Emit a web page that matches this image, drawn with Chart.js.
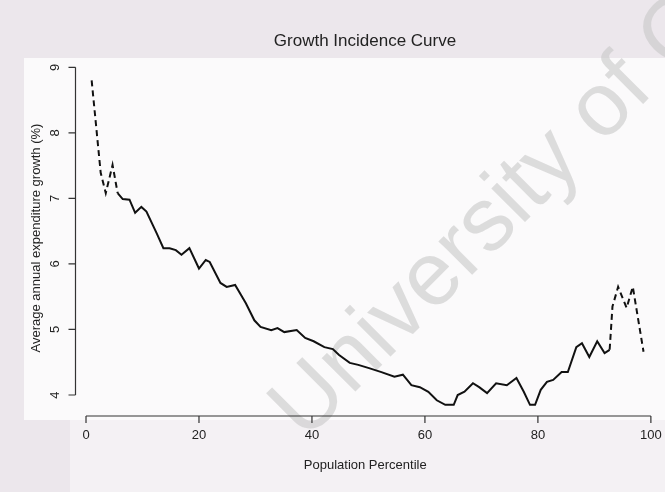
<!DOCTYPE html>
<html>
<head>
<meta charset="utf-8">
<script src="https://cdn.jsdelivr.net/npm/chart.js@4.4.1/dist/chart.umd.min.js"></script>
<style>
  html, body { margin: 0; padding: 0; background: #ece7ec; }
  #wrap { position: relative; width: 665px; height: 492px; }
</style>
</head>
<body>
<div id="wrap"><canvas id="gic" width="665" height="492"></canvas></div>
<script>
// Valores (percentil, crescimento %)
const percentiles = [1, 2.6, 3.5, 4.7, 5.6, 6.5, 7.7, 8.7, 9.8, 10.7, 12.5, 13.7, 14.8, 15.9, 16.9, 18.3, 20, 21.2, 21.9,
  23.8, 24.9, 26.4, 28.3, 29.8, 30.9, 32.8, 33.9, 35.1, 37.3, 38.8, 40.3, 42.2, 43.7, 44.8, 46.7, 48.2, 50.1, 52.3,
  54.6, 56.1, 57.6, 59.1, 60.6, 62.1, 63.6, 65.1, 65.8, 67, 68.5, 69.6, 71, 72.6, 74.5, 76.2, 77.5, 78.6, 79.5,
  80.5, 81.6, 82.7, 84.2, 85.3, 86.8, 87.8, 89.1, 90.5, 91.8, 92.7, 93.2, 94.2, 95.7, 96.8, 98.7];
const growth = [8.8, 7.39, 7.08, 7.51, 7.08, 6.99, 6.98, 6.78, 6.87, 6.8, 6.47, 6.24, 6.24, 6.21, 6.14, 6.24, 5.93, 6.06, 6.03,
  5.71, 5.65, 5.68, 5.4, 5.14, 5.04, 4.99, 5.02, 4.96, 4.99, 4.87, 4.82, 4.73, 4.7, 4.61, 4.49, 4.46, 4.41, 4.35,
  4.28, 4.31, 4.15, 4.12, 4.05, 3.92, 3.85, 3.85, 4.0, 4.05, 4.18, 4.12, 4.03, 4.18, 4.15, 4.26, 4.05, 3.85, 3.85,
  4.08, 4.2, 4.23, 4.35, 4.35, 4.73, 4.79, 4.58, 4.82, 4.64, 4.69, 5.35, 5.65, 5.33, 5.65, 4.66];
const xTicks = [0, 20, 40, 60, 80, 100];
const yTicks = [4, 5, 6, 7, 8, 9];

const tituloGrafico = 'Growth Incidence Curve';
const tituloX = 'Population Percentile';
const tituloY = 'Average annual expenditure growth (%)';
const marcaDagua = 'University of Cape Town';

// caudas tracejadas (abaixo de ~5 e acima de ~93)
const caudaBaixa = 5.6;
const caudaAlta = 92.7;

const pontos = percentiles.map((p, i) => ({ x: p, y: growth[i] }));

// Plugin para desenhar fundo, eixos estilo R e textos
const eixosR = {
  id: 'eixosR',
  beforeDraw(chart) {
    const ctx = chart.ctx;
    ctx.save();
    // fundo da pagina escaneada
    ctx.fillStyle = '#ece7ec';
    ctx.fillRect(0, 0, chart.width, chart.height);
    ctx.fillStyle = '#fbfafb';
    ctx.fillRect(24, 58, 641, 362);
    ctx.fillStyle = '#f4f1f4';
    ctx.fillRect(70, 420, 595, 72);
    // marca d'agua
    ctx.translate(305, 442);
    ctx.rotate(-45 * Math.PI / 180);
    ctx.font = '90px "Liberation Sans", Arial, sans-serif';
    ctx.fillStyle = 'rgba(200, 200, 200, 0.6)';
    ctx.fillText(marcaDagua, 0, 0);
    ctx.restore();
  },
  afterDraw(chart) {
    const ctx = chart.ctx;
    const x = chart.scales.x;
    const y = chart.scales.y;
    const area = chart.chartArea;
    ctx.save();
    ctx.strokeStyle = '#333';
    ctx.fillStyle = '#222';
    ctx.lineWidth = 1.2;

    // eixo x
    const yEixo = area.bottom;
    ctx.beginPath();
    ctx.moveTo(x.getPixelForValue(xTicks[0]), yEixo);
    ctx.lineTo(x.getPixelForValue(xTicks[xTicks.length - 1]), yEixo);
    xTicks.forEach(t => {
      const px = x.getPixelForValue(t);
      ctx.moveTo(px, yEixo);
      ctx.lineTo(px, yEixo + 7);
    });
    ctx.stroke();
    ctx.font = '13px "Liberation Sans", Arial, sans-serif';
    ctx.textAlign = 'center';
    ctx.textBaseline = 'middle';
    xTicks.forEach(t => ctx.fillText(String(t), x.getPixelForValue(t), 435));
    ctx.fillText(tituloX, (area.left + area.right) / 2 - 5, 465);

    // eixo y
    const xEixo = area.left;
    ctx.beginPath();
    ctx.moveTo(xEixo, y.getPixelForValue(yTicks[0]));
    ctx.lineTo(xEixo, y.getPixelForValue(yTicks[yTicks.length - 1]));
    yTicks.forEach(t => {
      const py = y.getPixelForValue(t);
      ctx.moveTo(xEixo, py);
      ctx.lineTo(xEixo - 7, py);
    });
    ctx.stroke();
    yTicks.forEach(t => {
      ctx.save();
      ctx.translate(55, y.getPixelForValue(t));
      ctx.rotate(-Math.PI / 2);
      ctx.fillText(String(t), 0, 0);
      ctx.restore();
    });
    ctx.save();
    ctx.translate(36, 238);
    ctx.rotate(-Math.PI / 2);
    ctx.fillText(tituloY, 0, 0);
    ctx.restore();

    // titulo
    ctx.font = '17px "Liberation Sans", Arial, sans-serif';
    ctx.fillText(tituloGrafico, 365, 41);
    ctx.restore();
  }
};

new Chart(document.getElementById('gic').getContext('2d'), {
  type: 'line',
  data: {
    datasets: [{
      data: pontos,
      borderColor: '#111',
      borderWidth: 2,
      pointRadius: 0,
      tension: 0,
      fill: false,
      segment: {
        borderDash: ctx => (ctx.p1.parsed.x <= caudaBaixa || ctx.p0.parsed.x >= caudaAlta) ? [6, 4] : undefined
      }
    }]
  },
  options: {
    responsive: false,
    animation: false,
    layout: { padding: { left: 75.5, top: 64, right: 0, bottom: 76 } },
    plugins: {
      legend: { display: false },
      tooltip: { enabled: false },
      title: { display: false }
    },
    scales: {
      x: { type: 'linear', min: -1.86, max: 102.5, display: false },
      y: { type: 'linear', min: 3.68, max: 9.05, display: false }
    }
  },
  plugins: [eixosR]
});
</script>
</body>
</html>
